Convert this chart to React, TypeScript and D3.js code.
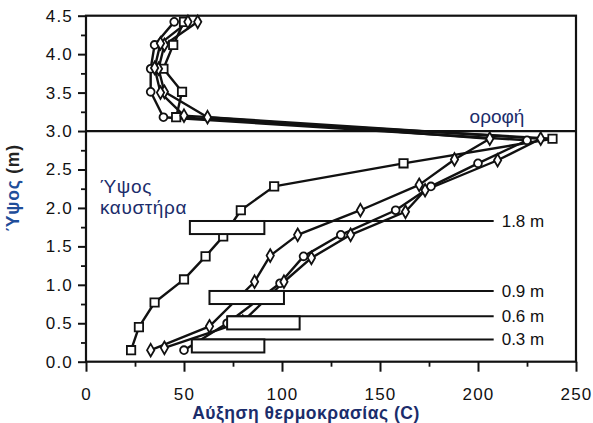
import React, { useEffect, useRef } from "react";
import * as d3 from "d3";

const W = 593;
const H = 423;

// axis ticks
const xTicks = [0, 50, 100, 150, 200, 250];
const xMinor = [25, 75, 125, 175, 225];
const yTicks = [0, 0.5, 1, 1.5, 2, 2.5, 3, 3.5, 4, 4.5];
const yMinor = [0.25, 0.75, 1.25, 1.75, 2.25, 2.75, 3.25, 3.75, 4.25];

// series: temperature rise (C) against height (m), one per burner height
const seriesNames = ["1.8 m", "0.9 m", "0.6 m", "0.3 m"];
const seriesMarkers = ["square", "diamond", "circle", "diamond"];

const temp18 = [23, 27, 35, 50, 61, 70, 79, 96, 162, 238, 46, 49, 39.5, 44.5, 50];
const height18 = [0.15, 0.45, 0.77, 1.07, 1.37, 1.63, 1.97, 2.28, 2.58, 2.9, 3.18, 3.51, 3.81, 4.12, 4.42];

const temp09 = [33, 63, 86, 94, 108, 140, 170, 188, 206, 62, 40, 37, 40, 57];
const height09 = [0.15, 0.46, 1.04, 1.38, 1.65, 1.97, 2.3, 2.63, 2.9, 3.18, 3.51, 3.81, 4.12, 4.42];

const temp06 = [50, 72, 99, 111, 130, 158, 176, 200, 225, 39.5, 33, 33, 35, 45];
const height06 = [0.15, 0.5, 1.02, 1.37, 1.65, 1.97, 2.28, 2.58, 2.88, 3.18, 3.51, 3.81, 4.12, 4.42];

const temp03 = [40, 80, 101, 115, 135, 163, 173, 210, 232, 50, 38, 35, 38, 52];
const height03 = [0.18, 0.52, 1.04, 1.35, 1.65, 1.95, 2.23, 2.62, 2.9, 3.2, 3.5, 3.82, 4.14, 4.42];

const seriesTemps = [temp18, temp09, temp06, temp03];
const seriesHeights = [height18, height09, height06, height03];

// burner boxes and their reference lines
const burnerLabels = ["1.8 m", "0.9 m", "0.6 m", "0.3 m"];
const burnerLevels = [1.83, 0.92, 0.59, 0.29];
const burnerStart = [53, 63, 72, 54];
const burnerEnd = [91, 101, 109, 91];
const burnerThickness = 0.17;
const burnerLineEnd = 208;

const ceilingHeight = 3.0;

const NAVY = "#1b2d6b";

const App = () => {
  const ref = useRef<SVGSVGElement>(null);

  useEffect(() => {
    const svg = d3.select(ref.current);
    svg.selectAll("*").remove();

    const x = d3.scaleLinear().domain([0, 250]).range([86, 576]);
    const y = d3.scaleLinear().domain([0, 4.5]).range([361.7, 15.7]);

    const font = "'Liberation Sans', Arial, sans-serif";

    // minor ticks
    svg.append("g")
      .attr("transform", `translate(0,${y(0)})`)
      .call(d3.axisBottom(x).tickValues(xMinor).tickSize(5).tickFormat(() => ""))
      .call(g => g.select(".domain").remove())
      .selectAll("line").attr("stroke", "#111").attr("stroke-width", 1.8);

    svg.append("g")
      .attr("transform", `translate(${x(0)},0)`)
      .call(d3.axisLeft(y).tickValues(yMinor).tickSize(5).tickFormat(() => ""))
      .call(g => g.select(".domain").remove())
      .selectAll("line").attr("stroke", "#111").attr("stroke-width", 1.8);

    // major ticks
    const xAxis = svg.append("g")
      .attr("transform", `translate(0,${y(0)})`)
      .call(d3.axisBottom(x).tickValues(xTicks).tickSize(10).tickPadding(16).tickFormat(d3.format("d")));
    xAxis.select(".domain").remove();
    xAxis.selectAll("line").attr("stroke", "#111").attr("stroke-width", 2);
    xAxis.selectAll("text")
      .attr("font-family", font).attr("font-size", 17).attr("letter-spacing", 1.2).attr("fill", "#111");

    const yAxis = svg.append("g")
      .attr("transform", `translate(${x(0)},0)`)
      .call(d3.axisLeft(y).tickValues(yTicks).tickSize(8).tickPadding(5).tickFormat(d3.format(".1f")));
    yAxis.select(".domain").remove();
    yAxis.selectAll("line").attr("stroke", "#111").attr("stroke-width", 2);
    yAxis.selectAll("text")
      .attr("font-family", font).attr("font-size", 17).attr("letter-spacing", 1.2).attr("fill", "#111");

    // frame
    svg.append("rect")
      .attr("x", x(0)).attr("y", y(4.5))
      .attr("width", x(250) - x(0)).attr("height", y(0) - y(4.5))
      .attr("fill", "none").attr("stroke", "#111").attr("stroke-width", 2.2);

    // ceiling
    svg.append("line")
      .attr("x1", x(0)).attr("x2", x(250))
      .attr("y1", y(ceilingHeight)).attr("y2", y(ceilingHeight))
      .attr("stroke", "#111").attr("stroke-width", 2.2);

    // series lines
    seriesNames.forEach((name, i) => {
      const pts: [number, number][] = seriesTemps[i].map((t, j) => [x(t), y(seriesHeights[i][j])]);
      svg.append("path")
        .attr("d", d3.line()(pts))
        .attr("fill", "none")
        .attr("stroke", "#111")
        .attr("stroke-width", 2.4)
        .attr("stroke-linejoin", "round");
    });

    // markers
    const symbolFor = (m: string) =>
      m === "square" ? d3.symbol(d3.symbolSquare, 70)
        : m === "circle" ? d3.symbol(d3.symbolCircle, 48)
          : d3.symbol(d3.symbolDiamond, 46);

    seriesNames.forEach((name, i) => {
      const sym = symbolFor(seriesMarkers[i]);
      svg.append("g")
        .selectAll("path")
        .data(seriesTemps[i].map((t, j) => [t, seriesHeights[i][j]]))
        .enter()
        .append("path")
        .attr("transform", d => `translate(${x(d[0])},${y(d[1])})`)
        .attr("d", sym() as string)
        .attr("fill", "#fff")
        .attr("stroke", "#111")
        .attr("stroke-width", 1.8);
    });

    // burner reference lines and boxes
    burnerLabels.forEach((label, i) => {
      svg.append("line")
        .attr("x1", x(burnerStart[i])).attr("x2", x(burnerLineEnd))
        .attr("y1", y(burnerLevels[i])).attr("y2", y(burnerLevels[i]))
        .attr("stroke", "#111").attr("stroke-width", 2);
      svg.append("rect")
        .attr("x", x(burnerStart[i]))
        .attr("y", y(burnerLevels[i]))
        .attr("width", x(burnerEnd[i]) - x(burnerStart[i]))
        .attr("height", y(burnerLevels[i] - burnerThickness) - y(burnerLevels[i]))
        .attr("fill", "#fff")
        .attr("stroke", "#111")
        .attr("stroke-width", 2);
      svg.append("text")
        .attr("x", x(burnerLineEnd) + 8)
        .attr("y", y(burnerLevels[i]))
        .attr("dy", "0.35em")
        .attr("font-family", font).attr("font-size", 17).attr("fill", "#111")
        .text(label);
    });

    // annotations
    svg.append("text")
      .attr("x", 497).attr("y", y(ceilingHeight) - 8)
      .attr("text-anchor", "middle")
      .attr("font-family", font).attr("font-size", 19).attr("fill", NAVY)
      .text("οροφή");

    const burnerNote = svg.append("text")
      .attr("font-family", font).attr("font-size", 19).attr("letter-spacing", 0.6).attr("fill", NAVY);
    burnerNote.append("tspan").attr("x", 100).attr("y", 193).text("Ύψος");
    burnerNote.append("tspan").attr("x", 100).attr("y", 214).text("καυστήρα");

    // axis titles
    svg.append("text")
      .attr("x", 306).attr("y", 419)
      .attr("text-anchor", "middle")
      .attr("font-family", font).attr("font-size", 17.5).attr("font-weight", "bold")
      .attr("letter-spacing", 0.5)
      .attr("fill", NAVY)
      .text("Αύξηση θερμοκρασίας (C)");

    const yTitle = svg.append("text")
      .attr("transform", `translate(19,188) rotate(-90)`)
      .attr("text-anchor", "middle")
      .attr("font-family", font).attr("font-size", 17.5).attr("font-weight", "bold")
      .attr("letter-spacing", 0.8);
    yTitle.append("tspan").attr("fill", "#1f4e9a").text("Ύψος ");
    yTitle.append("tspan").attr("fill", "#222").text("(m)");
  }, []);

  return (
    <svg
      ref={ref}
      width={W}
      height={H}
      style={{ position: "absolute", left: 0, top: 0, background: "#fff" }}
    />
  );
};

export default App;
